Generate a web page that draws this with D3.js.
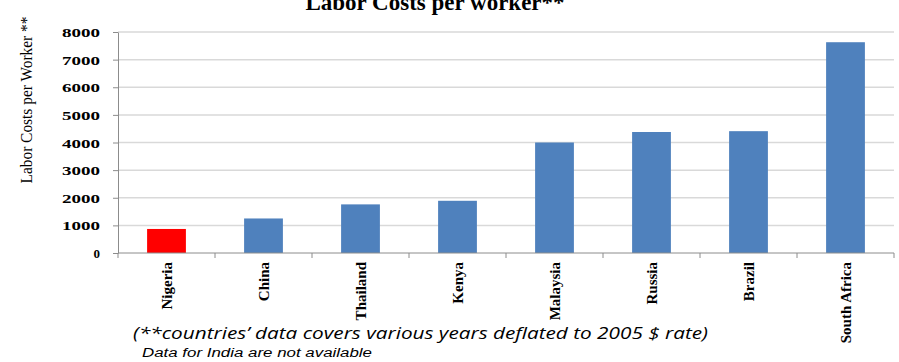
<!DOCTYPE html>
<html>
<head>
<meta charset="utf-8">
<script src="https://cdn.jsdelivr.net/npm/d3@7"></script>
<style>
  html, body { margin: 0; padding: 0; background: #fff; }
  svg { display: block; }
</style>
</head>
<body>
<svg id="chart" width="899" height="362"></svg>
<script>
// Labor costs per worker, by country
const countries = ["Nigeria", "China", "Thailand", "Kenya", "Malaysia", "Russia", "Brazil", "South Africa"];
const laborCosts = [870, 1250, 1760, 1890, 4000, 4380, 4410, 7630];
const yTicks = [0, 1000, 2000, 3000, 4000, 5000, 6000, 7000, 8000];
const highlighted = ["Nigeria"];

const svg = d3.select("#chart");
const plot = { left: 118, right: 894, top: 32, bottom: 253 };

const x = d3.scaleBand()
  .domain(countries)
  .range([plot.left, plot.right])
  .paddingInner(0.6)
  .paddingOuter(0.3);

const y = d3.scaleLinear()
  .domain([0, 8000])
  .range([plot.bottom, plot.top]);

const serif = "Liberation Serif, Times New Roman, serif";

// Horizontal gridlines
svg.append("g")
  .selectAll("line")
  .data(yTicks.filter(d => d > 0))
  .join("line")
  .attr("x1", plot.left)
  .attr("x2", plot.right)
  .attr("y1", d => y(d))
  .attr("y2", d => y(d))
  .attr("stroke", "#d9d9d9")
  .attr("stroke-width", 1.5);

// Bars
svg.append("g")
  .selectAll("rect")
  .data(countries.map((c, i) => ({ country: c, value: laborCosts[i] })))
  .join("rect")
  .attr("x", d => x(d.country))
  .attr("width", x.bandwidth())
  .attr("y", d => y(d.value))
  .attr("height", d => y(0) - y(d.value))
  .attr("fill", d => highlighted.includes(d.country) ? "#ff0000" : "#4f81bd");

// Y axis
const yAxis = svg.append("g")
  .attr("transform", `translate(${plot.left},0)`)
  .call(d3.axisLeft(y).tickValues(yTicks).tickFormat(d3.format("d"))
    .tickSize(5).tickSizeOuter(0));
yAxis.attr("font-family", serif).attr("font-size", 13).attr("font-weight", "bold");
yAxis.select(".domain").attr("stroke", "#8c8c8c");
yAxis.selectAll(".tick line").attr("stroke", "#8c8c8c");
yAxis.selectAll(".tick text")
  .style("font-family", serif)
  .style("font-weight", "bold")
  .style("font-size", "13px")
  .attr("fill", "#000")
  .attr("textLength", d => d === 0 ? null : 38)
  .attr("lengthAdjust", "spacingAndGlyphs")
  .attr("x", -18)
  .attr("dy", "0.35em");

// X axis with tick marks at band boundaries
const step = x.step();
const boundaries = d3.range(countries.length + 1).map(i => plot.left + i * step);
svg.append("line")
  .attr("x1", plot.left).attr("x2", plot.right)
  .attr("y1", y(0)).attr("y2", y(0))
  .attr("stroke", "#8c8c8c");
svg.append("g")
  .selectAll("line")
  .data(boundaries)
  .join("line")
  .attr("x1", d => d).attr("x2", d => d)
  .attr("y1", y(0)).attr("y2", y(0) + 5)
  .attr("stroke", "#8c8c8c");

// Category labels, rotated
svg.append("g")
  .selectAll("text")
  .data(countries)
  .join("text")
  .attr("transform", d => `translate(${x(d) + x.bandwidth() / 2 + 5},${y(0) + 9}) rotate(-90)`)
  .attr("text-anchor", "end")
  .style("font-family", serif)
  .style("font-weight", "bold")
  .style("font-size", "15px")
  .attr("fill", "#000")
  .text(d => d);

// Title
svg.append("text")
  .attr("x", 435)
  .attr("y", 10)
  .attr("text-anchor", "middle")
  .style("font-family", serif)
  .style("font-weight", "bold")
  .style("font-size", "23px")
  .attr("fill", "#000")
  .text("Labor Costs per worker**");

// Y axis title
svg.append("text")
  .attr("transform", "translate(32,100) rotate(-90)")
  .attr("text-anchor", "middle")
  .style("font-family", serif)
  .style("font-size", "16.5px")
  .attr("fill", "#000")
  .attr("textLength", 167)
  .attr("lengthAdjust", "spacingAndGlyphs")
  .text("Labor Costs per Worker **");

// Footnotes
svg.append("text")
  .attr("x", 133)
  .attr("y", 339)
  .style("font-family", "Open Sans, Noto Sans, sans-serif")
  .style("font-style", "italic")
  .style("font-size", "17px")
  .attr("fill", "#000")
  .attr("textLength", 575)
  .attr("lengthAdjust", "spacingAndGlyphs")
  .text("(**countries\u2019 data covers various years deflated to 2005 $ rate)");

svg.append("text")
  .attr("x", 142)
  .attr("y", 357)
  .style("font-family", "Liberation Sans, Arial, sans-serif")
  .style("font-style", "italic")
  .style("font-size", "12.5px")
  .attr("fill", "#000")
  .attr("textLength", 230)
  .attr("lengthAdjust", "spacingAndGlyphs")
  .text("Data for India are not available");
</script>
</body>
</html>
